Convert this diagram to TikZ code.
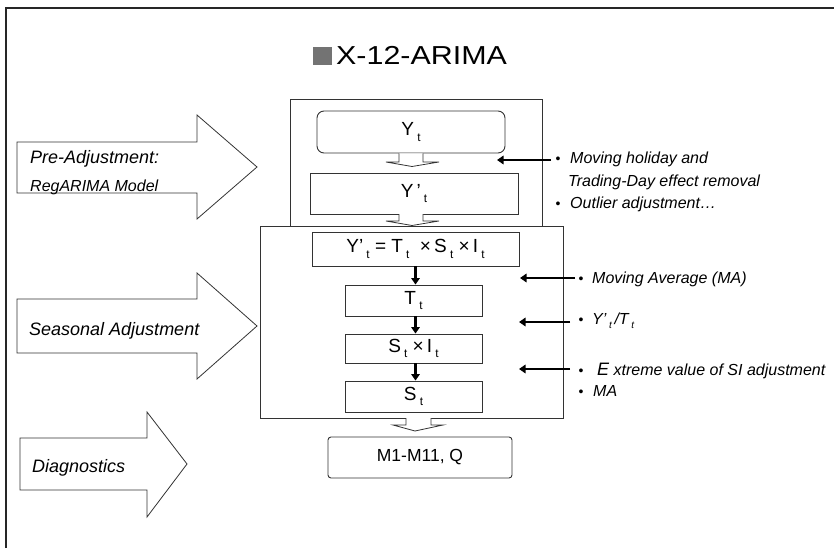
\documentclass[tikz,border=0pt]{standalone}
\usepackage{fontspec}
\setmainfont{Liberation Sans}
\usetikzlibrary{arrows.meta}
\newcommand{\subt}[1]{\raisebox{-0.28em}{\scalebox{0.62}{#1}}}
\begin{document}
\begin{tikzpicture}[x=1pt,y=-1pt,
  frame/.style={draw=black!85, line width=2pt},
  grp/.style={draw=black!80, line width=0.9pt, fill=white, inner sep=0pt},
  bx/.style={draw=black!80, line width=0.9pt, fill=white, inner sep=0pt, font=\fontsize{19}{19}\selectfont},
  hollow/.style={draw=black!80, line width=0.8pt, fill=white, line join=miter},
  blk/.style={-{Triangle[length=6.5pt,width=8.5pt]}, line width=2.6pt, black},
  lbl/.style={font=\fontsize{18}{20}\selectfont\itshape, anchor=base west, inner sep=0pt},
  lbls/.style={font=\fontsize{16}{18}\selectfont\itshape, anchor=base west, inner sep=0pt},
  note/.style={font=\fontsize{16}{19}\selectfont\itshape, anchor=base west, inner sep=0pt},
  bul/.style={font=\fontsize{14}{14}\selectfont, anchor=base west, inner sep=0pt}]
\useasboundingbox (0,0) rectangle (834,548);
% frame
\draw[frame] (5.5,548) -- (5.5,8.5) -- (834,8.5);
% title
\node[fill=black!55, minimum width=19pt, minimum height=18pt, inner sep=0pt] (tsq) at (322.5,56) {};
\node[anchor=base west, inner sep=0pt, font=\fontsize{26}{26}\selectfont] (title) at (336,64.5) {\scalebox{1.17}[1]{X-12-ARIMA}};
% group boxes
\node[grp, minimum width=303pt, minimum height=192pt] (g2) at (411.5,322) {};
\node[grp, minimum width=252pt, minimum height=127pt] (g1) at (416,162.5) {};
% boxes
\node[bx, rounded corners=7pt, minimum width=188pt, minimum height=42pt] (yt) at (411,132) {Y\,\subt{t}};
\node[bx, minimum width=208pt, minimum height=41pt] (ypt) at (414,193.5) {Y\,\textquoteright\,\subt{t}};
\node[bx, minimum width=207pt, minimum height=34pt] (eq) at (415.5,249) {Y\textquoteright\,\subt{t}\;=\;T\,\subt{t}\;\;×\,S\,\subt{t}\;×\,I\,\subt{t}};
\node[bx, minimum width=137pt, minimum height=31pt] (tt) at (413.5,300.5) {T\,\subt{t}};
\node[bx, minimum width=137pt, minimum height=29pt] (si) at (413.5,348.5) {S\,\subt{t}\;×\,I\,\subt{t}};
\node[bx, minimum width=137pt, minimum height=31pt] (st) at (413.5,396.5) {S\,\subt{t}};
\node[bx, rounded corners=3pt, minimum width=184pt, minimum height=41pt, font=\fontsize{17.5}{17.5}\selectfont] (mq) at (420,457.5) {M1-M11, Q};
% small hollow arrows
\draw[hollow] (399,153.5) -- (399,162) -- (386,162) -- (412,166.5) -- (439,162) -- (423,162) -- (423,153.5);
\draw[hollow] (399,214) -- (399,221) -- (386,221) -- (412,225.5) -- (439,221) -- (423,221) -- (423,214);
\draw[hollow] (406,418) -- (406,425) -- (393,425) -- (415,431) -- (443,425) -- (431,425) -- (431,418);
% black vertical arrows
\draw[blk] (eq.south) -- (eq.south |- tt.north);
\draw[blk] (eq.south |- tt.south) -- (eq.south |- si.north);
\draw[blk] (eq.south |- si.south) -- (eq.south |- st.north);
% big hollow arrows
\draw[hollow] (17,142) -- (197,142) -- (197,115) -- (257,167) -- (197,219) -- (197,193) -- (17,193) -- cycle;
\draw[hollow] (17,299) -- (197,299) -- (197,273) -- (257,326) -- (197,379) -- (197,353) -- (17,353) -- cycle;
\draw[hollow] (20,438) -- (147,438) -- (147,412) -- (187,464) -- (147,517) -- (147,490) -- (20,490) -- cycle;
% left labels
\node[lbl] (l1) at (30,164) {Pre-Adjustment:};
\node[lbls] (l1b) at (30,191) {RegARIMA Model};
\node[lbl] (l2) at (29,335) {Seasonal Adjustment};
\node[lbl] (l3) at (32,472) {Diagnostics};
% right arrows
\coordinate (r1a) at (551,160); \coordinate (r1b) at (497,160);
\coordinate (r2a) at (575,278); \coordinate (r2b) at (520,278);
\coordinate (r3a) at (570,322); \coordinate (r3b) at (519,322);
\coordinate (r4a) at (570,369); \coordinate (r4b) at (519,369);
\draw[blk] (r1a) -- (r1b);
\draw[blk] (r2a) -- (r2b);
\draw[blk] (r3a) -- (r3b);
\draw[blk] (r4a) -- (r4b);
% right notes
\node[bul] (b1) at (555.5,164) {•};
\node[note] (n1) at (570,164) {Moving holiday and};
\node[note] (n1b) at (568,186) {Trading-Day effect removal};
\node[bul] (b2) at (555.5,208) {•};
\node[note] (n2) at (570,208) {Outlier adjustment…};
\node[bul] (b3) at (578.5,283) {•};
\node[note] (n3) at (592,283) {Moving Average (MA)};
\node[bul] (b4) at (578.5,324) {•};
\node[note] (n4) at (592,324) {Y\textquoteright\,\subt{t}\,/T\,\subt{t}};
\node[bul] (b5) at (578.5,375) {•};
\node[note] (n5) at (597,375) {{\fontsize{18}{18}\selectfont E}\ xtreme value of SI adjustment};
\node[bul] (b6) at (578.5,396) {•};
\node[note] (n6) at (593,396) {MA};
\end{tikzpicture}
\end{document}
